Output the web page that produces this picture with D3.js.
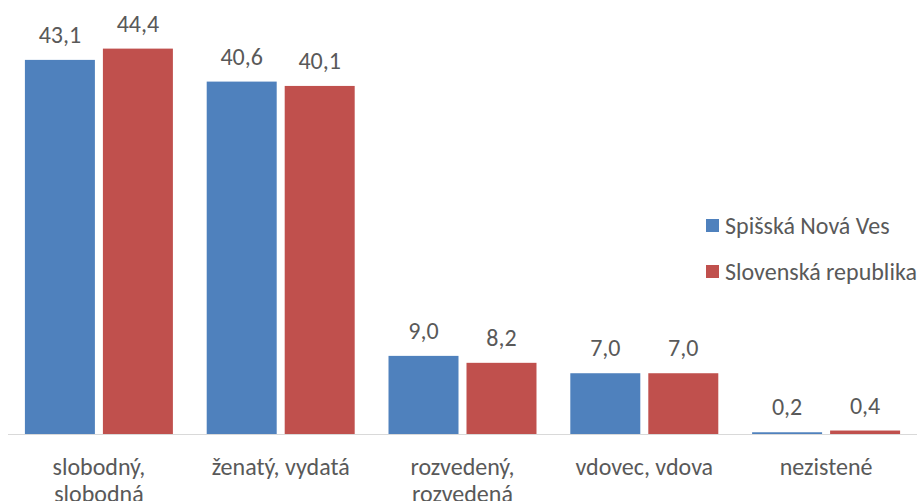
<!DOCTYPE html>
<html>
<head>
<meta charset="utf-8">
<script src="https://cdn.jsdelivr.net/npm/d3@7"></script>
<style>
  body { margin: 0; background: #fff; }
  text { font-family: Carlito, Calibri, "Open Sans", sans-serif; fill: #595959; }
</style>
</head>
<body>
<div id="chart"></div>
<script>
// Data
const categories = [
  ["slobodný,", "slobodná"],
  ["ženatý, vydatá"],
  ["rozvedený,", "rozvedená"],
  ["vdovec, vdova"],
  ["nezistené"],
];
const seriesNames = ["Spišská Nová Ves", "Slovenská republika"];
const spisskaNovaVes = [43.1, 40.6, 9.0, 7.0, 0.2];
const slovenskaRepublika = [44.4, 40.1, 8.2, 7.0, 0.4];
const colors = ["#4F81BD", "#C0504D"];

const width = 920;
const height = 501;
const fmt = (v) => v.toFixed(1).replace(".", ",");

const svg = d3
  .select("#chart")
  .append("svg")
  .attr("width", width)
  .attr("height", height);

const x0 = d3
  .scaleBand()
  .domain(d3.range(categories.length))
  .range([8, 917])
  .paddingInner(0.186)
  .paddingOuter(0.093);

const x1 = d3
  .scaleBand()
  .domain(d3.range(seriesNames.length))
  .range([0, x0.bandwidth()])
  .paddingInner(0.1026);

const y = d3.scaleLinear().domain([0, 50]).range([434, 0]);

const values = [spisskaNovaVes, slovenskaRepublika];

// Bars
const groups = svg
  .selectAll("g.group")
  .data(categories)
  .enter()
  .append("g")
  .attr("class", "group")
  .attr("transform", (d, i) => `translate(${x0(i)},0)`);

groups.each(function (d, ci) {
  const g = d3.select(this);
  values.forEach((series, si) => {
    const v = series[ci];
    g.append("rect")
      .attr("x", x1(si))
      .attr("y", y(v))
      .attr("width", x1.bandwidth())
      .attr("height", y(0) - y(v))
      .attr("fill", colors[si]);

    g.append("text")
      .attr("x", x1(si) + x1.bandwidth() / 2)
      .attr("y", y(v) - 17)
      .attr("text-anchor", "middle")
      .style("font-size", "24px")
      .text(fmt(v));
  });
});

// Axis line
svg
  .append("line")
  .attr("x1", 8)
  .attr("x2", 917)
  .attr("y1", y(0) + 0.5)
  .attr("y2", y(0) + 0.5)
  .attr("stroke", "#d9d9d9")
  .attr("stroke-width", 1);

// Category labels (second line runs off the bottom edge, as in the original)
categories.forEach((lines, i) => {
  const t = svg
    .append("text")
    .attr("x", x0(i) + x0.bandwidth() / 2)
    .attr("y", 475)
    .attr("text-anchor", "middle")
    .style("font-size", "24px");
  lines.forEach((line, li) => {
    t.append("tspan")
      .attr("x", x0(i) + x0.bandwidth() / 2)
      .attr("dy", li === 0 ? 0 : 27)
      .text(line);
  });
});

// Legend
const legend = svg
  .selectAll("g.legend")
  .data(seriesNames)
  .enter()
  .append("g")
  .attr("class", "legend")
  .attr("transform", (d, i) => `translate(706,${219 + i * 46})`);

legend
  .append("rect")
  .attr("width", 13)
  .attr("height", 13)
  .attr("fill", (d, i) => colors[i]);

legend
  .append("text")
  .attr("x", 19)
  .attr("y", 15)
  .style("font-size", "24px")
  .text((d) => d);
</script>
</body>
</html>
